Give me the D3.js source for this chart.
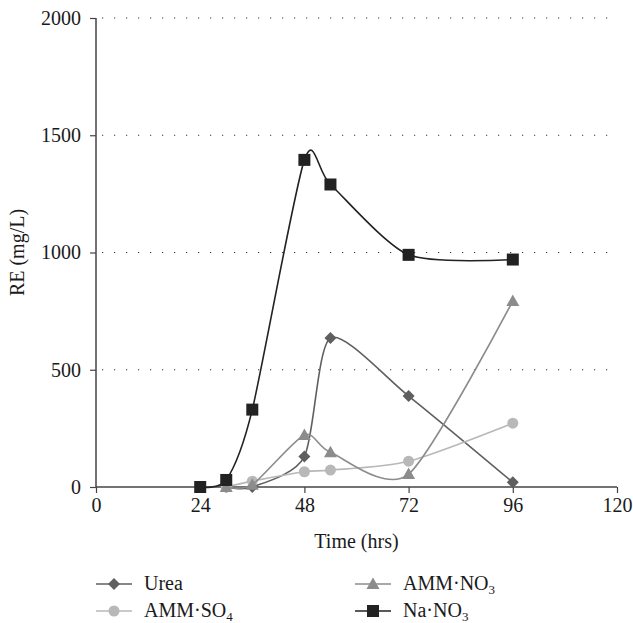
<!DOCTYPE html>
<html>
<head>
<meta charset="utf-8">
<script src="https://cdn.jsdelivr.net/npm/d3@7"></script>
<style>
  body { margin: 0; background: #fff; }
  text { font-family: "Liberation Serif", "Times New Roman", serif; fill: #1a1a1a; }
</style>
</head>
<body>
<script>
// data
var hours = [24, 30, 36, 48, 54, 72, 96];
var urea = [null, 0, 0, 130, 635, 388, 20];
var ammSO4 = [null, 0, 25, 65, 72, 110, 272];
var ammNO3 = [null, 0, 10, 222, 148, 55, 793];
var naNO3 = [0, 30, 330, 1395, 1290, 990, 970];
var xTicks = [0, 24, 48, 72, 96, 120];
var yTicks = [0, 500, 1000, 1500, 2000];

var w = 633, h = 623;
var mLeft = 96, mRight = 617, mTop = 18, mBottom = 487;
var fs = 20;

var series = [
    { name: "Urea", sub: "", values: urea, color: "#5f5f5f", symbol: "diamond" },
    { name: "AMM\u00b7SO", sub: "4", values: ammSO4, color: "#b8b8b8", symbol: "circle" },
    { name: "AMM\u00b7NO", sub: "3", values: ammNO3, color: "#8c8c8c", symbol: "triangle" },
    { name: "Na\u00b7NO", sub: "3", values: naNO3, color: "#222222", symbol: "square" }
];

var x = d3.scaleLinear().domain([0, 120]).range([mLeft, mRight]);
var y = d3.scaleLinear().domain([0, 2000]).range([mBottom, mTop]);

var svg = d3.select("body").append("svg").attr("width", w).attr("height", h);

// dotted gridlines
svg.selectAll(".grid").data(yTicks.slice(1)).enter().append("line")
    .attr("class", "grid")
    .attr("x1", mLeft + 6).attr("x2", mRight)
    .attr("y1", d => y(d)).attr("y2", d => y(d))
    .attr("stroke", "#333").attr("stroke-width", 1.2)
    .attr("stroke-dasharray", "1.2,10.8");

// axes
var xAxis = d3.axisBottom(x).tickValues(xTicks).tickSize(6).tickPadding(5).tickFormat(d3.format("d"));
var yAxis = d3.axisLeft(y).tickValues(yTicks).tickSize(6).tickPadding(9).tickFormat(d3.format("d"));

var gx = svg.append("g").attr("transform", "translate(0," + mBottom + ")").call(xAxis);
var gy = svg.append("g").attr("transform", "translate(" + mLeft + ",0)").call(yAxis);
[gx, gy].forEach(function (g) {
    g.select(".domain").attr("stroke", "#444").attr("stroke-width", 1.5);
    g.selectAll(".tick line").attr("stroke", "#444").attr("stroke-width", 1.2);
    g.selectAll(".tick text").attr("font-size", fs).attr("font-family", "Liberation Serif").attr("fill", "#1a1a1a");
});
gx.select(".domain").attr("d", "M" + mLeft + ",0H" + mRight);
gy.select(".domain").attr("d", "M0," + mTop + "V" + mBottom);

// labels
svg.append("text").attr("x", (mLeft + mRight) / 2).attr("y", 548)
    .attr("text-anchor", "middle").attr("font-size", fs).text("Time (hrs)");
svg.append("text").attr("transform", "translate(24," + ((mTop + mBottom) / 2) + ") rotate(-90)")
    .attr("text-anchor", "middle").attr("font-size", fs).text("RE (mg/L)");

function marker(sel, s) {
    if (s.symbol == "square") {
        sel.append("rect").attr("x", -6).attr("y", -6).attr("width", 12).attr("height", 12).attr("fill", s.color);
    } else if (s.symbol == "circle") {
        sel.append("circle").attr("r", 5.5).attr("fill", s.color);
    } else if (s.symbol == "diamond") {
        sel.append("path").attr("d", "M0,-6L6,0L0,6L-6,0Z").attr("fill", s.color);
    } else {
        sel.append("path").attr("d", "M0,-6.5L6.5,5L-6.5,5Z").attr("fill", s.color);
    }
}

var line = d3.line()
    .x(d => x(d.t)).y(d => y(d.v))
    .curve(d3.curveCardinal.tension(0.25));

series.forEach(function (s) {
    var pts = hours.map((t, i) => ({ t: t, v: s.values[i] })).filter(d => d.v != null);
    svg.append("path").datum(pts)
        .attr("d", line)
        .attr("fill", "none").attr("stroke", s.color).attr("stroke-width", 1.6);
    svg.selectAll(null).data(pts).enter().append("g")
        .attr("transform", d => "translate(" + x(d.t) + "," + y(d.v) + ")")
        .each(function () { marker(d3.select(this), s); });
});

// legend
var legendPos = [[96, 584], [96, 611], [355, 584], [355, 611]];
series.forEach(function (s, i) {
    var p = legendPos[i];
    var g = svg.append("g").attr("transform", "translate(" + p[0] + "," + p[1] + ")");
    g.append("line").attr("x1", 0).attr("x2", 36).attr("stroke", s.color).attr("stroke-width", 1.6);
    marker(g.append("g").attr("transform", "translate(18,0)"), s);
    var t = g.append("text").attr("x", 48).attr("y", 6).attr("font-size", fs).text(s.name);
    if (s.sub) t.append("tspan").attr("font-size", 13).attr("dy", 4).text(s.sub);
});
</script>
</body>
</html>
